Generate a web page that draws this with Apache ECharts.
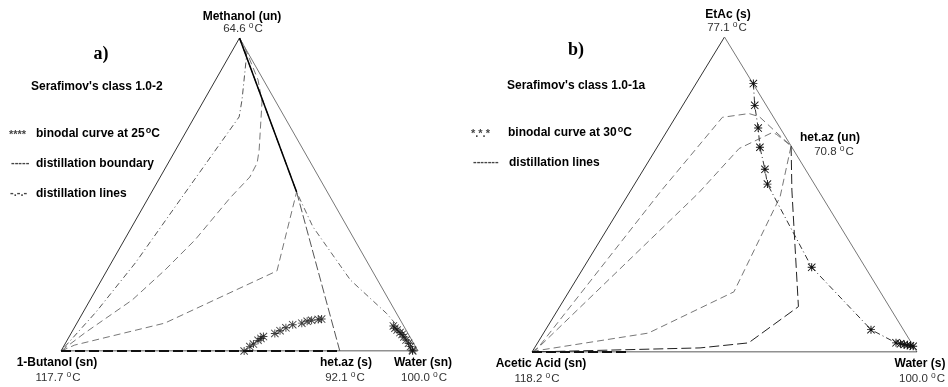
<!DOCTYPE html>
<html>
<head>
<meta charset="utf-8">
<script src="https://cdn.jsdelivr.net/npm/echarts@6/dist/echarts.min.js"></script>
<style>
  html, body { margin: 0; padding: 0; background: #fff; }
  #main { width: 948px; height: 387px; }
</style>
</head>
<body>
<div id="main"></div>
<script>
// compositions are [x(top component), x(right component)], mole fractions
var triEdgeLeft  = [[0, 0], [1, 0]];
var triEdgeRight = [[1, 0], [0, 1]];
var triEdgeBase  = [[0, 0], [0, 1]];

// a) Methanol (top) / Water (right) / 1-Butanol (left)
var aBoundaryUpper = [[1, 0], [0.508, 0.406]];
var aBoundaryLower = [[0.508, 0.406], [0, 0.781]];
var aLineToWater   = [[1, 0], [0.508, 0.406], [0.397, 0.507], [0.227, 0.697], [0.120, 0.852], [0.014, 0.985], [0, 1]];
var aLine1 = [[1, 0], [0.946, 0.047], [0.802, 0.106], [0.748, 0.125], [0.482, 0.092], [0.284, 0.068], [0.125, 0.036], [0, 0]];
var aLine2 = [[1, 0], [0.971, 0.029], [0.866, 0.119], [0.796, 0.165], [0.642, 0.234], [0.601, 0.249], [0.556, 0.251],
              [0.489, 0.229], [0.355, 0.198], [0.259, 0.162], [0.163, 0.118], [0.058, 0.038], [0, 0]];
var aLine3 = [[0, 0], [0.019, 0.029], [0.089, 0.246], [0.256, 0.477], [0.508, 0.406], [1, 0]];
var aBaseLine = [[0, 0], [0, 0.781]];
var aBinodalLeft = [[0, 0.513], [0.014, 0.522], [0.022, 0.528], [0.034, 0.535], [0.040, 0.540], [0.046, 0.544],
                    [0.056, 0.571], [0.065, 0.581], [0.074, 0.593], [0.084, 0.607], [0.089, 0.630], [0.095, 0.642],
                    [0.098, 0.653], [0.101, 0.670], [0.102, 0.679]];
var aBinodalRight = [[0.080, 0.891], [0.073, 0.899], [0.067, 0.908], [0.059, 0.920], [0.053, 0.929], [0.045, 0.938],
                     [0.035, 0.949], [0.025, 0.961], [0.014, 0.972], [0.003, 0.983], [0, 0.985]];

// b) EtAc (top) / Water (right) / Acetic Acid (left)
var bLine1 = [[0, 0], [0.007, 0.008], [0.514, 0.080], [0.745, 0.122], [0.757, 0.185], [0.747, 0.217], [0.654, 0.346]];
var bLine2 = [[0, 0], [0.018, 0.011], [0.504, 0.180], [0.646, 0.215], [0.696, 0.275], [0.692, 0.288], [0.654, 0.346]];
var bLine3 = [[0, 0], [0.004, 0.009], [0.060, 0.272], [0.191, 0.429], [0.493, 0.398], [0.654, 0.346]];
var bLine4 = [[0.654, 0.346], [0.514, 0.418], [0.144, 0.620], [0.029, 0.548], [0.013, 0.430], [0, 0]];
var bBaseLine = [[0, 0], [0, 0.25]];
var bBinodal = [[0.852, 0.149], [0.783, 0.187], [0.711, 0.232], [0.650, 0.267], [0.580, 0.315], [0.533, 0.345],
                [0.269, 0.592], [0.071, 0.845], [0.029, 0.931], [0.026, 0.944], [0.024, 0.955], [0.022, 0.964],
                [0.020, 0.973], [0.018, 0.981]];

var STAR = 'path://M4.4,0h1.2v10h-1.2Z M0,4.4h10v1.2h-10Z M0.8,0L10,9.2L9.2,10L0,0.8Z M9.2,0L10,0.8L0.8,10L0,9.2Z';

function tern(list) {
    return list.map(function (p) { return [p[1] + p[0] / 2, p[0]]; });
}

function line(g, data, color, width, type) {
    return {
        type: 'line', xAxisIndex: g, yAxisIndex: g, data: tern(data),
        symbol: 'none', silent: true, z: 2,
        lineStyle: { color: color, width: width, type: type }
    };
}

var DASH = [7, 4];
var DASHDOT = [6, 3, 1, 3];

var series = [
    line(0, triEdgeLeft, '#333', 1, 'solid'),
    line(0, triEdgeRight, '#777', 1, 'solid'),
    line(0, triEdgeBase, '#222', 1, 'solid'),
    line(0, aLine1, '#555', 1, DASHDOT),
    line(0, aLine2, '#777', 1, DASH),
    line(0, aLine3, '#777', 1, DASH),
    line(0, aLineToWater, '#666', 1, DASHDOT),
    line(0, aBoundaryLower, '#555', 1, [9, 3]),
    line(0, aBoundaryUpper, '#000', 1.5, 'solid'),
    line(0, aBaseLine, '#111', 2, [10, 4]),
    {
        type: 'scatter', xAxisIndex: 0, yAxisIndex: 0, data: tern(aBinodalLeft.concat(aBinodalRight)),
        symbol: STAR, symbolSize: 8, silent: true, z: 3,
        itemStyle: { color: '#111' }
    },
    line(1, triEdgeLeft, '#333', 1, 'solid'),
    line(1, triEdgeRight, '#777', 1, 'solid'),
    line(1, triEdgeBase, '#222', 1, 'solid'),
    line(1, bLine1, '#777', 1, DASH),
    line(1, bLine2, '#777', 1, DASH),
    line(1, bLine3, '#777', 1, DASH),
    line(1, bLine4, '#222', 1, [10, 4]),
    line(1, bBaseLine, '#111', 2, [10, 4]),
    {
        type: 'line', xAxisIndex: 1, yAxisIndex: 1, data: tern(bBinodal),
        symbol: STAR, symbolSize: 8, showAllSymbol: true, silent: true, z: 3,
        lineStyle: { color: '#333', width: 1, type: DASHDOT },
        itemStyle: { color: '#111' }
    }
];

var BOLD = 'bold 12px "Liberation Sans", Arial, sans-serif';
var rich = {
    b: { font: BOLD, fill: '#000' },
    bs: { font: 'bold 9px "Liberation Sans", Arial, sans-serif', fill: '#000', padding: [0, 0, 7, 1] },
    n: { font: '11.5px "Liberation Sans", Arial, sans-serif', fill: '#333' },
    ns: { font: '8.5px "Liberation Sans", Arial, sans-serif', fill: '#333', padding: [0, 1, 6, 0] }
};

function txt(x, y, text, align, extra) {
    var style = {
        text: text, rich: rich, align: align || 'center', verticalAlign: 'middle',
        font: BOLD, fill: '#000'
    };
    if (extra) for (var k in extra) style[k] = extra[k];
    return { type: 'text', x: x, y: y, silent: true, style: style };
}

function temp(x, y, value) {
    return txt(x, y, '{n|' + value + ' }{ns|o}{n|C}');
}

var MARK = { font: 'bold 11px "Liberation Sans", sans-serif', fill: '#444' };

var graphics = [
    // a)
    txt(242, 17, 'Methanol (un)'),
    temp(243, 29, '64.6'),
    txt(101, 54, 'a)', 'center', { font: 'bold 18px "Liberation Serif", "Times New Roman", serif' }),
    txt(31, 87, "Serafimov's class 1.0-2", 'left'),
    txt(9, 135, '****', 'left', MARK),
    txt(36, 134, '{b|binodal curve at 25}{bs|o}{b|C}', 'left'),
    txt(11, 163, '-----', 'left', MARK),
    txt(36, 164, 'distillation boundary', 'left'),
    txt(10, 193, '-.-.-', 'left', MARK),
    txt(36, 194, 'distillation lines', 'left'),
    txt(57, 363, '1-Butanol (sn)'),
    temp(58, 378, '117.7'),
    txt(346, 363, 'het.az (s)'),
    temp(345, 378, '92.1'),
    txt(423, 363, 'Water (sn)'),
    temp(424, 378, '100.0'),
    // b)
    txt(728, 15, 'EtAc (s)'),
    temp(727, 28, '77.1'),
    txt(576, 50, 'b)', 'center', { font: 'bold 18px "Liberation Serif", "Times New Roman", serif' }),
    txt(507, 86, "Serafimov's class 1.0-1a", 'left'),
    txt(471, 134, '*.*.*', 'left', MARK),
    txt(508, 133, '{b|binodal curve at 30}{bs|o}{b|C}', 'left'),
    txt(473, 162, '-------', 'left', MARK),
    txt(509, 163, 'distillation lines', 'left'),
    txt(800, 138, 'het.az (un)', 'left'),
    temp(834, 152, '70.8'),
    txt(541, 364, 'Acetic Acid (sn)'),
    temp(537, 379, '118.2'),
    txt(920, 364, 'Water (s)'),
    temp(922, 379, '100.0')
];

var myChart = echarts.init(document.getElementById('main'), null, { renderer: 'canvas' });
myChart.setOption({
    animation: false,
    backgroundColor: '#fff',
    grid: [
        { left: 61, top: 38, width: 357, height: 313 },
        { left: 532, top: 37, width: 385, height: 315 }
    ],
    xAxis: [
        { gridIndex: 0, type: 'value', min: 0, max: 1, show: false },
        { gridIndex: 1, type: 'value', min: 0, max: 1, show: false }
    ],
    yAxis: [
        { gridIndex: 0, type: 'value', min: 0, max: 1, show: false },
        { gridIndex: 1, type: 'value', min: 0, max: 1, show: false }
    ],
    series: series,
    graphic: graphics
});
</script>
</body>
</html>
